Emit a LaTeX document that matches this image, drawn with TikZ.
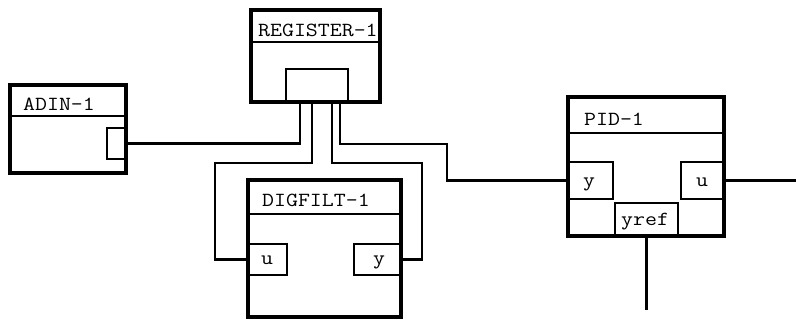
\documentclass[tikz,border=0pt]{standalone}
\usepackage{fontspec}
\usepackage{graphicx}
\newcommand\wtxt[1]{\scalebox{1.16}[1]{#1}}
\begin{document}
\begin{tikzpicture}[x=1pt,y=-1pt,
  blk/.style={draw,line width=3.4pt,inner sep=0pt,outer sep=0pt,anchor=north west},
  port/.style={draw,line width=2pt,inner sep=0pt,outer sep=0pt,anchor=north west},
  sep/.style={line width=2pt},
  wire/.style={line width=2.2pt},
  lbl/.style={inner sep=0pt,anchor=base west,font=\fontsize{20}{21}\selectfont\ttfamily}]
\useasboundingbox (0,0) rectangle (796,320);
% blocks
\node[blk,minimum width=129pt,minimum height=92pt] (reg) at (251,10) {};
\node[blk,minimum width=116pt,minimum height=88pt] (adin) at (10,85) {};
\node[blk,minimum width=153pt,minimum height=137pt] (dig) at (248,180) {};
\node[blk,minimum width=156pt,minimum height=139pt] (pid) at (568,97) {};
% title separators
\draw[sep] (reg.west |- 0,42) -- (reg.east |- 0,42);
\draw[sep] (adin.west |- 0,116) -- (adin.east |- 0,116);
\draw[sep] (dig.west |- 0,214) -- (dig.east |- 0,214);
\draw[sep] (pid.west |- 0,133) -- (pid.east |- 0,133);
% titles
\node[lbl] (regt) at (258,37) {\wtxt{REGISTER-1}};
\node[lbl] (adint) at (23,111) {\wtxt{ADIN-1}};
\node[lbl] (digt) at (262,207) {\wtxt{DIGFILT-1}};
\node[lbl] (pidt) at (584,126) {\wtxt{PID-1}};
% ports
\node[port,minimum width=62pt,minimum height=33pt] (regport) at (286,69) {};
\node[port,minimum width=19pt,minimum height=31pt] (adinport) at (107,128) {};
\node[port,minimum width=39pt,minimum height=31pt] (dfu) at (248,244) {};
\node[port,minimum width=47pt,minimum height=31pt] (dfy) at (354,244) {};
\node[port,minimum width=45pt,minimum height=37pt] (pidy) at (568,162) {};
\node[port,minimum width=43pt,minimum height=37pt] (pidu) at (681,162) {};
\node[port,minimum width=63pt,minimum height=33pt] (yref) at (615,203) {};
% port labels
\node[lbl] (dfut) at (261,265) {\wtxt{u}};
\node[lbl] (dfyt) at (373,265) {\wtxt{y}};
\node[lbl] (pidyt) at (583,187) {\wtxt{y}};
\node[lbl] (pidut) at (696,187) {\wtxt{u}};
\node[lbl] (yreft) at (621,226) {\wtxt{yref}};
% tap points and free ends
\coordinate (t1) at (300,102);
\coordinate (t2) at (312,102);
\coordinate (t3) at (332,102);
\coordinate (t4) at (340,102);
\coordinate (b2) at (215,163);
\coordinate (b3) at (422,163);
\coordinate (b4) at (447,144);
\coordinate (outend) at (796,180.5);
\coordinate (yrefend) at (646.5,310);
% connectors
\draw[wire] (adinport.east) -| (t1);
\draw[wire] (t2) |- (b2) |- (dfu.west);
\draw[wire] (t3) |- (b3) |- (dfy.east);
\draw[wire] (t4) |- (b4) |- (pidy.west);
\draw[wire] (pidu.east) -- (outend);
\draw[wire] (yref.south) -- (yrefend);
\end{tikzpicture}
\end{document}
